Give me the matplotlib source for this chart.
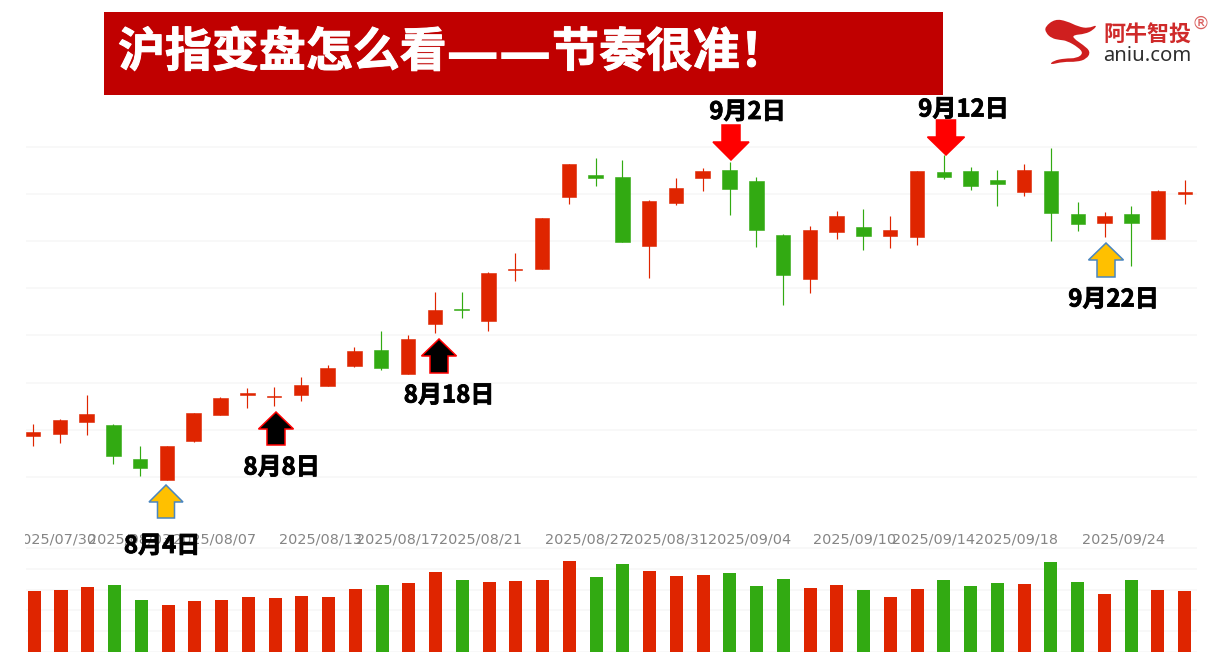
import numpy as np
import matplotlib
matplotlib.use("Agg")
import matplotlib.pyplot as plt
import matplotlib.patheffects as pe
from matplotlib.patches import Polygon, Rectangle, PathPatch
from matplotlib.path import Path
from matplotlib.transforms import Bbox

plt.rcParams['font.family'] = ['Noto Sans CJK SC', 'DejaVu Sans']

# daily candles
opens = [3564, 3566, 3578, 3575, 3541, 3520, 3559, 3585, 3605, 3603, 3605, 3614, 3634, 3650, 3626, 3676,
         3691, 3679, 3730, 3731, 3803, 3825, 3823, 3754, 3797, 3822, 3830, 3819, 3765, 3721, 3768, 3773,
         3764, 3763, 3828, 3829, 3820, 3808, 3829, 3786, 3777, 3786, 3761, 3806]
closes = [3568, 3580, 3586, 3544, 3532, 3554, 3587, 3602, 3607, 3604, 3615, 3632, 3649, 3632, 3661, 3690,
          3690, 3727, 3731, 3782, 3836, 3822, 3758, 3799, 3812, 3829, 3811, 3770, 3725, 3770, 3784, 3764,
          3770, 3829, 3823, 3814, 3816, 3830, 3787, 3776, 3784, 3777, 3809, 3808]
highs = [3576, 3581, 3605, 3576, 3554, 3554, 3587, 3603, 3612, 3613, 3623, 3635, 3653, 3669, 3665, 3708,
         3708, 3728, 3747, 3782, 3836, 3842, 3840, 3800, 3822, 3832, 3838, 3823, 3766, 3774, 3789, 3791,
         3784, 3829, 3845, 3833, 3830, 3836, 3852, 3798, 3788, 3794, 3810, 3820]
lows = [3554, 3557, 3565, 3536, 3524, 3520, 3558, 3585, 3592, 3594, 3599, 3614, 3633, 3630, 3626, 3667,
        3682, 3669, 3719, 3731, 3796, 3814, 3758, 3722, 3795, 3809, 3785, 3753, 3695, 3707, 3761, 3750,
        3752, 3755, 3821, 3810, 3794, 3804, 3759, 3769, 3763, 3734, 3761, 3796]
volumes = [73.5, 74.7, 78.3, 80.7, 62.7, 56.6, 61.5, 62.7, 66.3, 65.0, 67.5, 66.3, 75.9, 80.7, 83.1, 96.4,
           86.8, 84.4, 85.6, 86.8, 109.7, 90.4, 106.0, 97.6, 91.6, 92.8, 95.2, 79.5, 88.0, 77.1, 80.7, 74.7,
           66.3, 75.9, 86.8, 79.5, 83.1, 81.9, 108.4, 84.4, 69.9, 86.8, 74.7, 73.5]

tick_labels = ['2025/07/30', '2025/08/03', '2025/08/07', '2025/08/13', '2025/08/17', '2025/08/21', '2025/08/27',
               '2025/08/31', '2025/09/04', '2025/09/10', '2025/09/14', '2025/09/18', '2025/09/24']
tick_pos = [0.8, 3.6, 6.76, 10.72, 13.62, 16.72, 20.68, 23.63, 26.73, 30.68, 33.6, 36.73, 40.69]

RED = '#DF2500'
GREEN = '#32AA12'
GRID = '#F6F6F6'
W, H = 1219, 664


def px_axes(fig, left, top, right, bottom):
    return fig.add_axes([left / W, 1 - bottom / H, (right - left) / W, (bottom - top) / H])


def arrow(ax, cx, tip, head_y, end, head_w, shaft_w, face, edge):
    d = head_w / 2
    s = shaft_w / 2
    pts = [(cx, tip), (cx + d, head_y), (cx + s, head_y), (cx + s, end),
           (cx - s, end), (cx - s, head_y), (cx - d, head_y)]
    ax.add_patch(Polygon(pts, closed=True, facecolor=face, edgecolor=edge, linewidth=1.1, joinstyle='miter'))


def smooth_blob(pts):
    # closed curve through the midpoints of pts
    pts = np.array(pts, dtype=float)
    mids = (pts + np.roll(pts, -1, axis=0)) / 2
    verts = [mids[-1]]
    codes = [Path.MOVETO]
    for p, m in zip(pts, mids):
        verts += [p, m]
        codes += [Path.CURVE3, Path.CURVE3]
    return Path(verts, codes)


fig = plt.figure(figsize=(W / 100, H / 100), dpi=100)
x = np.arange(len(opens))
opens = np.array(opens)
closes = np.array(closes)
colors = [RED if c >= o else GREEN for o, c in zip(opens, closes)]

# candles
ax = px_axes(fig, 26, 100, 1197, 524)
ax.set_xlim(-0.26, 43.45)
ax.set_ylim(3476, 3900)
ax.vlines(x, lows, highs, colors=colors, linewidth=0.85, zorder=3)
ax.bar(x, closes - opens, bottom=opens, width=0.54, color=colors, edgecolor=colors, linewidth=0.4, zorder=4)
ax.set_yticks(3523 + 47.2 * np.arange(8))
ax.set_yticklabels([])
ax.grid(axis='y', color=GRID, linewidth=1.1)
ax.set_axisbelow(True)
ax.set_xticks(tick_pos)
ax.set_xticklabels(tick_labels, family='DejaVu Sans', fontsize=10.4, color='#858585')
ax.tick_params(length=0, pad=6)
for lbl in ax.get_xticklabels():
    lbl.set_clip_on(True)
    lbl.set_clip_box(Bbox([[25, 0], [W, H]]))
for s in ax.spines.values():
    s.set_visible(False)

# volume
ax2 = px_axes(fig, 26, 547, 1197, 652)
ax2.set_xlim(-0.31, 43.46)
ax2.set_ylim(0, 126)
ax2.bar(x, volumes, width=0.49, color=colors, zorder=3)
ax2.set_yticks([0, 25, 50, 75, 100, 125])
ax2.set_yticklabels([])
ax2.set_xticks([])
ax2.grid(axis='y', color=GRID, linewidth=1.1)
ax2.set_axisbelow(True)
ax2.tick_params(length=0)
for s in ax2.spines.values():
    s.set_visible(False)

# overlay in pixel space: banner, arrows, notes, logo
ov = fig.add_axes([0, 0, 1, 1], facecolor='none')
ov.set_xlim(0, W)
ov.set_ylim(H, 0)
ov.axis('off')

ov.add_patch(Rectangle((104, 12), 839, 83, facecolor='#C00000', edgecolor='none'))
heavy = [pe.withStroke(linewidth=0.7, foreground='white')]
ov.text(118, 52.5, '沪指变盘怎么看', color='white', fontsize=33.8, fontweight='bold', va='center', ha='left',
        path_effects=heavy)
ov.text(445, 70, '——', color='white', fontsize=38.4, fontweight='bold', family='DejaVu Sans',
        va='baseline', ha='left')
ov.text(552, 52.5, '节奏很准！', color='white', fontsize=33.8, fontweight='bold', va='center', ha='left',
        path_effects=heavy)

arrow(ov, 166, 485, 502, 518, 34, 17, '#FFC000', '#4A86C0')
arrow(ov, 1106, 243, 260, 277, 35, 18, '#FFC000', '#4A86C0')
arrow(ov, 276, 412, 429, 445, 35, 18, 'black', '#FF0000')
arrow(ov, 439, 339, 356, 373, 35, 18, 'black', '#FF0000')
arrow(ov, 731, 160, 142, 125, 36, 18, '#FF0000', '#FF0000')
arrow(ov, 946, 155, 137, 120, 37, 19, '#FF0000', '#FF0000')

notes = [('8月4日', 162, 546), ('8月8日', 281.5, 467.5), ('8月18日', 449, 395.5),
         ('9月2日', 747.5, 112), ('9月12日', 963.5, 109.5), ('9月22日', 1113.5, 299.5)]
for txt, nx, ny in notes:
    ov.text(nx, ny, txt, color='black', fontsize=17.3, fontweight='bold', ha='center', va='center',
            path_effects=[pe.withStroke(linewidth=0.6, foreground='black')])

# logo
swoosh = [(15, 50), (45, 27), (80, 33), (115, 50), (145, 55), (172, 44), (160, 60), (135, 72), (100, 75),
          (100, 85), (130, 105), (152, 125), (140, 147), (110, 156), (70, 155), (28, 165), (40, 152),
          (75, 145), (110, 145), (130, 130), (115, 112), (80, 92), (60, 90), (35, 85), (17, 68)]
logo_path = smooth_blob([(1040 + a / 3, 10 + b / 3) for a, b in swoosh])
ov.add_patch(PathPatch(logo_path, facecolor='#CF1F1F', edgecolor='none'))
ov.text(1147, 34, '阿牛智投', color='#CF2A2A', fontsize=15.8, fontweight='bold', ha='center', va='center')
ov.text(1147, 56, 'aniu.com', color='#2E2E2E', fontsize=14.6, family='Noto Sans', ha='center', va='center')
ov.text(1201, 24, '®', color='#D9605F', fontsize=13, family='DejaVu Sans', ha='center', va='center')

fig.savefig('out.png', dpi=100)
